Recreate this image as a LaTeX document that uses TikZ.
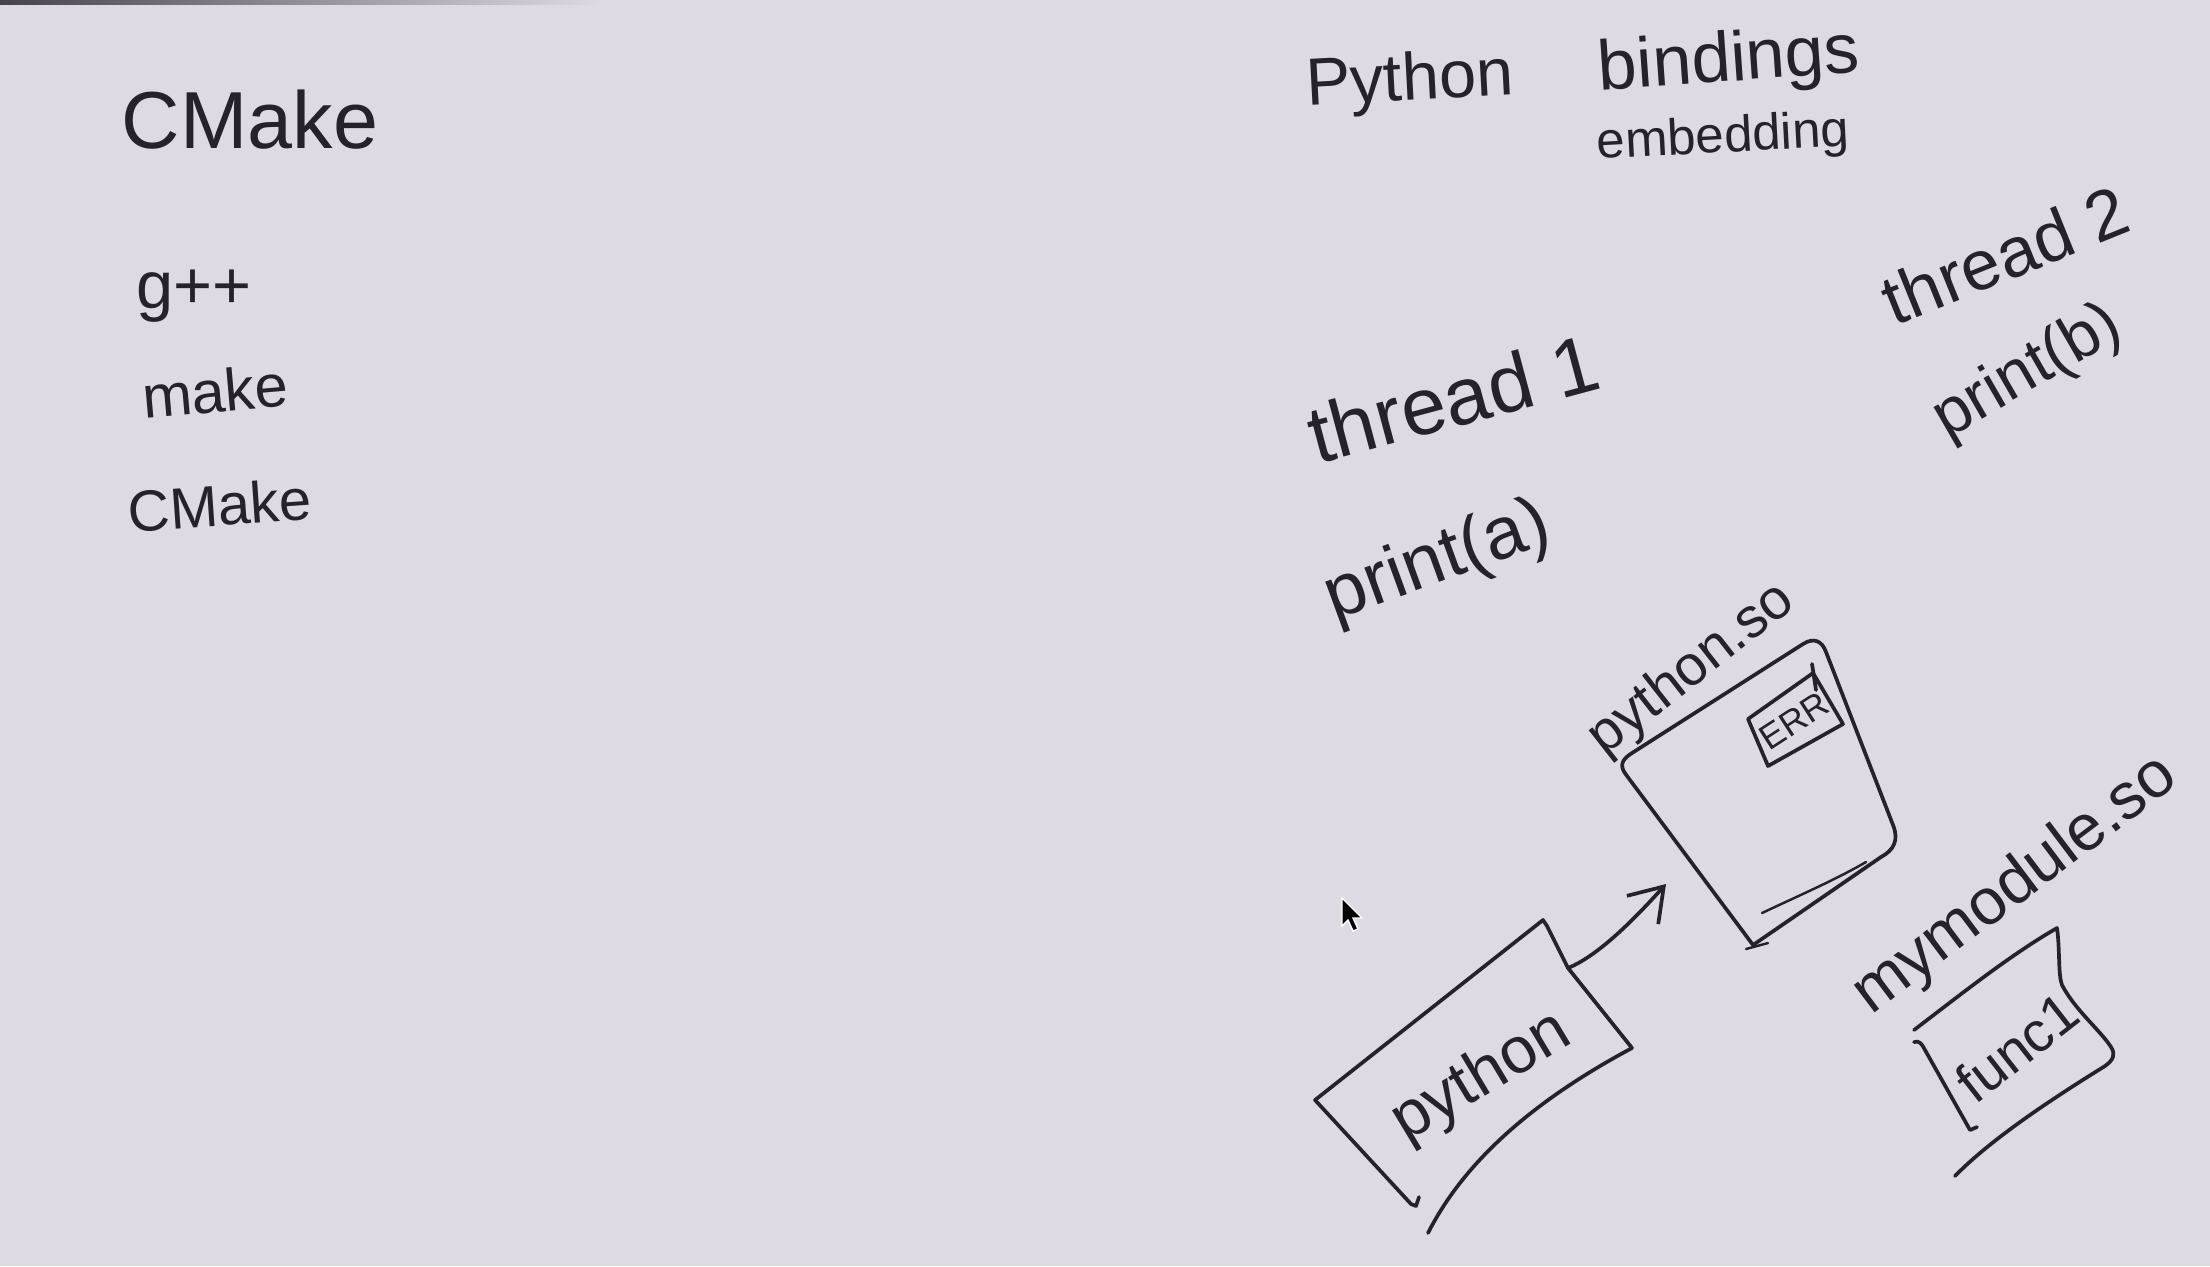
\documentclass[tikz,border=0pt]{standalone}
\usepackage{fontspec}
\setmainfont{Liberation Sans}
\usetikzlibrary{arrows.meta}
\definecolor{bg}{RGB}{222,218,228}
\definecolor{ink}{RGB}{38,34,44}
\newcommand\hwfs[1]{\fontsize{#1}{#1}\selectfont}
\tikzset{
  hw/.style={inner sep=0pt, text=ink},
  pen/.style={draw=ink, line width=1.05pt, line cap=round, line join=round},
  thinpen/.style={draw=ink, line width=0.7pt, line cap=round, line join=round},
}
\begin{document}
\begin{tikzpicture}[x=0.01cm,y=-0.01cm]
\fill[bg] (0,0) rectangle (2210,1266);
\useasboundingbox (0,0) rectangle (2210,1266);
\fill[left color=ink!85, right color=bg] (0,0) rectangle (600,4);

% left column
\node[hw, font=\hwfs{23}] (cmakeA) at (250,120) {CMake};
\node[hw, font=\hwfs{19}] (gpp) at (194,296) {g++};
\node[hw, font=\hwfs{17}, rotate=5] (make) at (215,391) {make};
\node[hw, font=\hwfs{16.5}, rotate=4] (cmakeB) at (220,505) {CMake};

% right top
\node[hw, font=\hwfs{19}, rotate=3] (python) at (1410,83) {Python};
\node[hw, font=\hwfs{20}, rotate=4] (bindings) at (1729,63) {bindings};
\node[hw, font=\hwfs{14.5}, rotate=3] (embedding) at (1723,139) {embedding};

\node[hw, font=\hwfs{23}, rotate=15] (thA) at (1453,398) {thread 1};
\node[hw, font=\hwfs{21}, rotate=20] (prA) at (1438,563) {print(a)};
\node[hw, font=\hwfs{20}, rotate=22] (thB) at (2005,255) {thread 2};
\node[hw, font=\hwfs{18.5}, rotate=30] (prB) at (2028,373) {print(b)};

% python.so
\node[hw, font=\hwfs{16}, rotate=38] (pyso) at (1692,670) {python.so};
\coordinate (soBL) at (1753,945);
\draw[pen] (soBL) -- (1627,776) .. controls (1619,766) and (1621,760) .. (1632,753)
  -- (1803,644) .. controls (1814,637) and (1822,641) .. (1826,652)
  -- (1893,825) .. controls (1899,840) and (1894,850) .. (1881,857) -- cycle;
\draw[thinpen] (1762,913) .. controls (1800,895) and (1835,880) .. (1866,862);
\draw[thinpen] (1746,949) -- (1768,943);
% ERR box
\coordinate (eTL) at (1748,719);
\coordinate (eTR) at (1813,673);
\coordinate (eBR) at (1843,724);
\coordinate (eBL) at (1768,766);
\draw[pen] (eTL) -- (eTR) -- (eBR) -- (eBL) -- cycle;
\draw[pen] (1812,664) -- (1816,690);
\node[hw, font=\hwfs{10}, rotate=33] (err) at (1794,721) {ERR};

% python box
\coordinate (pL) at (1315,1100);
\coordinate (pT) at (1543,920);
\coordinate (pN) at (1568,968);
\coordinate (pR) at (1632,1048);
\coordinate (pB) at (1411,1204);
\draw[pen] (1419,1197) -- (1416,1206) -- (pB) -- (pL) -- (pT) -- (1547,926) -- (pN) -- (pR);
\draw[pen] (pR) .. controls (1535,1100) and (1465,1160) .. (1428,1233);
\node[hw, font=\hwfs{18.5}, rotate=31] (pybox) at (1482,1078) {python};

% arrow python -> python.so
\coordinate (arrEnd) at (1666,884);
\draw[pen, -{Straight Barb[length=9pt,width=12pt]}] (pN) .. controls (1600,955) and (1638,915) .. (arrEnd);

% mymodule.so
\node[hw, font=\hwfs{18.5}, rotate=37] (mymod) at (2016,886) {mymodule.so};
\coordinate (fTL) at (1914,1030);
\coordinate (fTR) at (2057,928);
\draw[pen] (1914,1042) .. controls (1919,1040) and (1922,1044) .. (1925,1050) -- (1970,1130) -- (1977,1127);
\draw[pen] (fTL) .. controls (1960,995) and (2010,955) .. (fTR) .. controls (2060,950) and (2058,975) .. (2062,985) .. controls (2075,1010) and (2100,1030) .. (2111,1047) .. controls (2116,1055) and (2113,1060) .. (2105,1066) .. controls (2050,1100) and (1990,1140) .. (1955,1176);
\node[hw, font=\hwfs{16}, rotate=38] (func) at (2017,1047) {func1};

% mouse cursor
\filldraw[fill=black, draw=white, line width=0.4pt] (1342,898) -- (1342,926) -- (1348,920) -- (1353,931) -- (1358,929) -- (1353,918) -- (1362,918) -- cycle;
\end{tikzpicture}
\end{document}
